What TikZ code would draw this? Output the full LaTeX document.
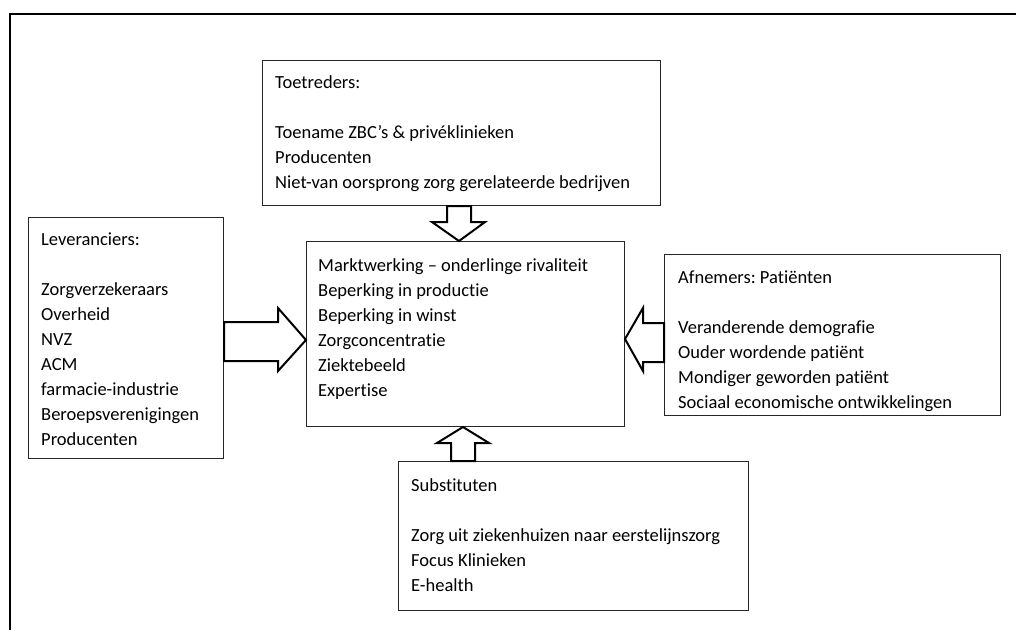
\documentclass[tikz,border=0pt]{standalone}
\usepackage{fontspec}
\setmainfont{Carlito}[Ligatures={NoCommon}]
\usetikzlibrary{calc}
\frenchspacing
\begin{document}
\begin{tikzpicture}[x=1pt,y=-1pt,
  box/.style={draw=black!85, line width=1pt, inner sep=0pt, anchor=north west},
  txt/.style={anchor=base west, inner sep=0pt, font=\fontsize{18.5}{25}\selectfont},
  blockarrow/.style={draw=black, line width=2pt, fill=white, line join=miter}]
\useasboundingbox (0,0) rectangle (1016,630);

% frame along the top and left edge
\draw[line width=2pt, line join=miter] (10,630) -- (10,13.5) -- (1016,13.5);

% the five forces
\node[box, minimum width=398pt, minimum height=145pt] (toe) at (262,60) {};
\node[box, minimum width=195pt, minimum height=241pt] (lev) at (28,217) {};
\node[box, minimum width=318pt, minimum height=185pt] (ctr) at (306,241) {};
\node[box, minimum width=336pt, minimum height=161pt] (afn) at (664,254) {};
\node[box, minimum width=350pt, minimum height=149pt] (sub) at (398,461) {};

\node[txt] (toetxt) at ($(toe.north west)+(13,28)$) {\begin{tabular}[t]{@{}l@{}}
Toetreders:\\ \\
Toename ZBC’s \& privéklinieken\\
Producenten\\
Niet-van oorsprong zorg gerelateerde bedrijven
\end{tabular}};

\node[txt] (levtxt) at ($(lev.north west)+(13,28)$) {\begin{tabular}[t]{@{}l@{}}
Leveranciers:\\ \\
Zorgverzekeraars\\
Overheid\\
NVZ\\
ACM\\
farmacie-industrie\\
Beroepsverenigingen\\
Producenten
\end{tabular}};

\node[txt] (ctrtxt) at ($(ctr.north west)+(12,30)$) {\begin{tabular}[t]{@{}l@{}}
Marktwerking – onderlinge rivaliteit\\
Beperking in productie\\
Beperking in winst\\
Zorgconcentratie\\
Ziektebeeld\\
Expertise
\end{tabular}};

\node[txt] (afntxt) at ($(afn.north west)+(14,29)$) {\begin{tabular}[t]{@{}l@{}}
Afnemers: Patiënten\\ \\
Veranderende demografie\\
Ouder wordende patiënt\\
Mondiger geworden patiënt\\
Sociaal economische ontwikkelingen
\end{tabular}};

\node[txt] (subtxt) at ($(sub.north west)+(13,30)$) {\begin{tabular}[t]{@{}l@{}}
Substituten\\ \\
Zorg uit ziekenhuizen naar eerstelijnszorg\\
Focus Klinieken\\
E-health
\end{tabular}};

% block arrows pointing into the centre box
\draw[blockarrow] (447,0 |- toe.south) -- (447,222) -- (432,222)
  -- (ctr.north -| 459,0) -- (485,222) -- (471,222) -- (471,0 |- toe.south) -- cycle;
\draw[blockarrow] (lev.east |- 0,322) -- (278,322) -- (278,308)
  -- (ctr.west |- 0,340) -- (278,371) -- (278,361) -- (lev.east |- 0,361) -- cycle;
\draw[blockarrow] (afn.west |- 0,323) -- (643,323) -- (643,308)
  -- (ctr.east |- 0,339) -- (643,371) -- (643,362) -- (afn.west |- 0,362) -- cycle;
\draw[blockarrow] (451,0 |- sub.north) -- (451,443) -- (437,443)
  -- (ctr.south -| 463,0) -- (489,443) -- (475,443) -- (475,0 |- sub.north) -- cycle;
\end{tikzpicture}
\end{document}
